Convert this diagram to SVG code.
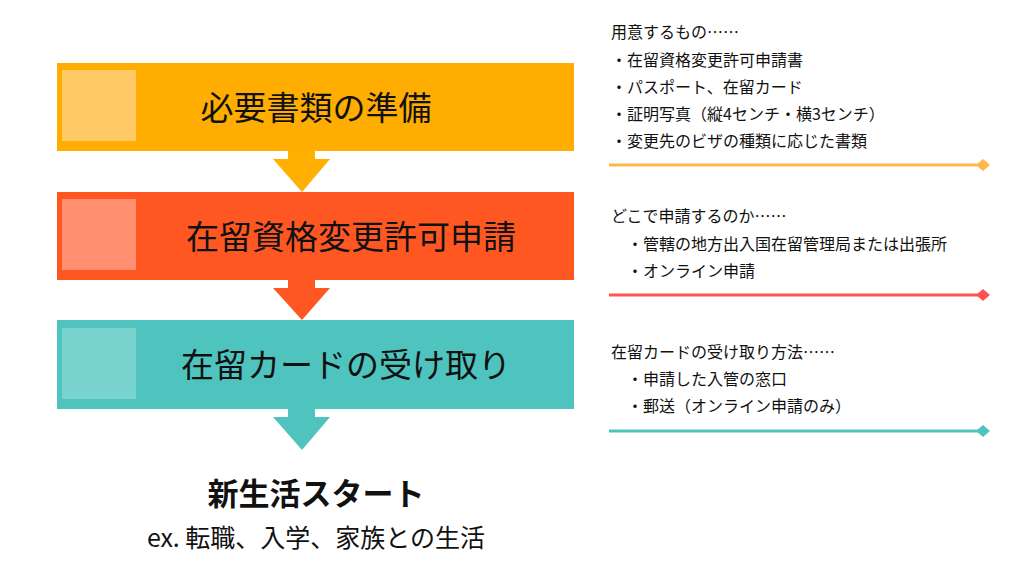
<svg xmlns="http://www.w3.org/2000/svg" width="1024" height="576" viewBox="0 0 1024 576">
<style>
.t{font-family:"Noto Sans CJK JP","Noto Sans",sans-serif;fill:#111}
.h{font-size:33px}
.s{font-size:16px}
</style>
<rect width="1024" height="576" fill="#fff"/>
<g id="connectors">
<polygon points="288,151 315,151 315,159 330,159 302,192 273,159 288,159" fill="#FFB000"/>
<polygon points="288,280 315,280 315,288 330,288 302,320 273,288 288,288" fill="#FF5722"/>
<polygon points="288,409 315,409 315,417 330,417 302,450 273,417 288,417" fill="#4FC4BE"/>
<line x1="609" y1="165" x2="983" y2="165" stroke="#FFB74D" stroke-width="3"/>
<polygon points="983,159 990,165 983,171 976,165" fill="#FFB74D"/>
<line x1="609" y1="295" x2="983" y2="295" stroke="#FF5252" stroke-width="3"/>
<polygon points="983,289 990,295 983,301 976,295" fill="#FF5252"/>
<line x1="609" y1="431" x2="983" y2="431" stroke="#4FC4BE" stroke-width="3"/>
<polygon points="983,425 990,431 983,437 976,431" fill="#4FC4BE"/>
</g>
<g id="n1"><rect x="57" y="63" width="517" height="88" fill="#FFAD00"/><rect x="62" y="70" width="74" height="71" fill="#FFCA66"/>
<text class="t h" x="316" y="120" text-anchor="middle">必要書類の準備</text></g>
<g id="n2"><rect x="57" y="192" width="517" height="88" fill="#FF5722"/><rect x="62" y="199" width="74" height="71" fill="#FF8F6E"/>
<text class="t h" x="351" y="249" text-anchor="middle">在留資格変更許可申請</text></g>
<g id="n3"><rect x="57" y="320" width="517" height="89" fill="#4FC4BE"/><rect x="62" y="328" width="74" height="71" fill="#79D4CF"/>
<text class="t h" x="346" y="377" text-anchor="middle">在留カードの受け取り</text></g>
<g id="n4"><text class="t" x="316" y="505" text-anchor="middle" font-size="31" font-weight="bold">新生活スタート</text>
<text class="t" x="316" y="547" text-anchor="middle" font-size="25">ex. 転職、入学、家族との生活</text></g>
<g id="d1" class="t s"><text x="611" y="38">用意するもの……</text><text x="611" y="66">・在留資格変更許可申請書</text><text x="611" y="93">・パスポート、在留カード</text><text x="611" y="120">・証明写真（縦4センチ・横3センチ）</text><text x="611" y="147">・変更先のビザの種類に応じた書類</text></g>
<g id="d2" class="t s"><text x="611" y="222">どこで申請するのか……</text><text x="627" y="250">・管轄の地方出入国在留管理局または出張所</text><text x="627" y="277">・オンライン申請</text></g>
<g id="d3" class="t s"><text x="611" y="358">在留カードの受け取り方法……</text><text x="627" y="385">・申請した入管の窓口</text><text x="627" y="412">・郵送（オンライン申請のみ）</text></g>
</svg>
